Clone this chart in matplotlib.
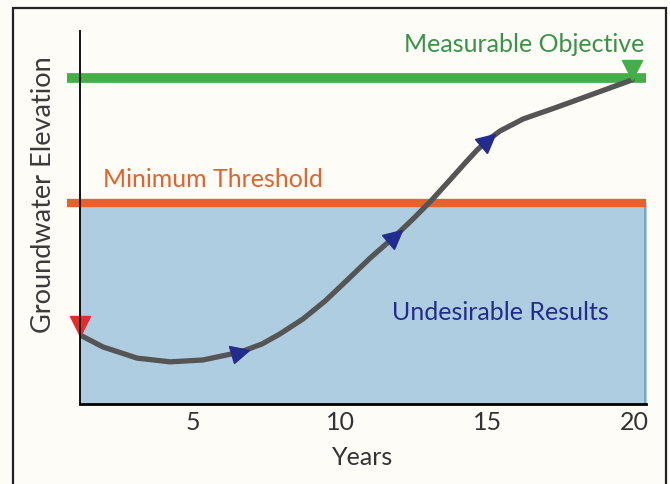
import numpy as np
import matplotlib.pyplot as plt
from matplotlib.markers import MarkerStyle
from matplotlib.transforms import Affine2D
from matplotlib.patches import Rectangle

plt.rcParams["font.family"] = ["Lato", "DejaVu Sans"]

# ---------------------------
# Data
# ---------------------------
years = [1.16, 1.94, 3.10, 4.22, 5.34, 6.60, 7.35, 7.96, 8.74, 9.49,
         10.24, 11.02, 11.87, 12.48, 13.06, 13.74, 14.25, 14.66, 15.03,
         15.44, 16.22, 17.38, 18.50, 19.93]
elevation = [18.5, 15.3, 12.3, 11.3, 11.8, 13.9, 16.1, 18.8, 22.8, 27.6,
             33.2, 39.1, 45.0, 49.6, 54.2, 60.1, 64.6, 68.1, 70.8,
             73.2, 76.4, 79.6, 82.8, 86.9]
arrow_idx = [5, 12, 18]

objective = 87.4
threshold = 53.9
xticks = [5, 10, 15, 20]

# colours
bg = "#fdfcf7"
green = "#45ae49"
orange = "#e6622a"
fill_blue = "#afcde1"
navy = "#222c8c"
curve_grey = "#555555"

fig = plt.figure(figsize=(6.70, 4.84), dpi=100, facecolor=bg)
ax = fig.add_axes([80 / 670, 80 / 484, 566 / 670, 373 / 484])
ax.set_facecolor(bg)

x0, x1 = 1.16, 20.4
ax.set_xlim(x0, x1)
ax.set_ylim(0, 100)

# outer frame
fig.patches.append(Rectangle((13 / 670, -0.05), 653 / 670, 1.05 - 8 / 484,
                             transform=fig.transFigure, fill=False,
                             edgecolor="#222222", linewidth=1.6))

# undesirable zone
ax.fill_between([x0, x1], 0, threshold, color=fill_blue, zorder=1)
ax.plot([x1 - 0.05, x1 - 0.05], [0, threshold], color="#6b9fcc", lw=1.2, zorder=1)

# threshold lines
ax.plot([0.71, x1], [objective, objective], color=green, lw=7,
        solid_capstyle="butt", clip_on=False, zorder=2)
ax.plot([0.71, x1], [threshold, threshold], color=orange, lw=6,
        solid_capstyle="butt", clip_on=False, zorder=2)

# groundwater curve
ax.plot(years, elevation, color=curve_grey, lw=3.8,
        solid_capstyle="round", solid_joinstyle="round", zorder=3)

# direction arrows
fig.canvas.draw()
pts = ax.transData.transform(np.column_stack([years, elevation]))
for i in arrow_idx:
    dx, dy = pts[i + 1] - pts[i - 1]
    ang = np.degrees(np.arctan2(dy, dx))
    m = MarkerStyle(">", transform=Affine2D().rotate_deg(ang))
    ax.plot(years[i], elevation[i], marker=m, ms=13, color=navy,
            linestyle="none", zorder=4)

# start / end markers
ax.plot(years[0], elevation[0] + 2.3, marker="v", ms=14, color="#e52b2b",
        linestyle="none", clip_on=False, zorder=5)
ax.plot(years[-1], elevation[-1] + 2.6, marker="v", ms=14, color=green,
        linestyle="none", clip_on=False, zorder=5)

# labels
ax.text(20.35, 96.3, "Measurable Objective", color="#3a9447", fontsize=18,
        ha="right", va="center")
ax.text(1.95, 60.2, "Minimum Threshold", color=orange, fontsize=18,
        ha="left", va="center")
ax.text(19.15, 24.6, "Undesirable Results", color=navy, fontsize=18,
        ha="right", va="center")

ax.set_xticks(xticks)
ax.set_yticks([])
ax.tick_params(axis="x", length=0, labelsize=18, labelcolor="#333333", pad=5)
ax.set_xlabel("Years", fontsize=18, color="#333333", labelpad=9)
ax.set_ylabel("Groundwater Elevation", fontsize=19.5, color="#3a3a3a")
ax.yaxis.set_label_coords(-0.042, 0.56)

for side in ["top", "right"]:
    ax.spines[side].set_visible(False)
ax.spines["left"].set_linewidth(1.3)
ax.spines["bottom"].set_linewidth(2.0)
ax.spines["left"].set_zorder(6)

fig.savefig("out.png", dpi=100, facecolor=bg)
